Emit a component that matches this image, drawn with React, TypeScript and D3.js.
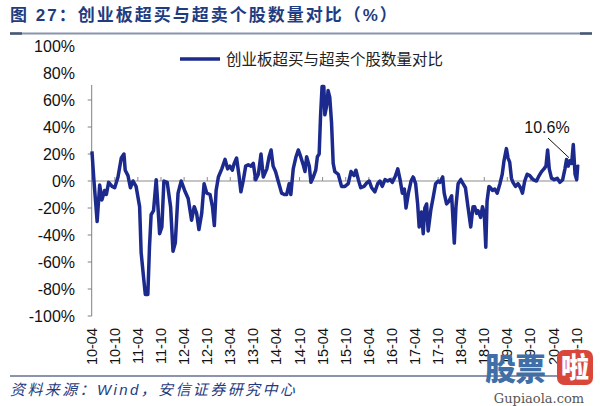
import React from "react";
import * as d3 from "d3";

const dates: string[] = [
  "2010-04-03","2010-04-19","2010-05-14","2010-06-03","2010-06-21","2010-07-12","2010-07-26","2010-08-13","2010-09-09","2010-09-30",
  "2010-10-26","2010-11-21","2010-12-12","2010-12-22","2011-01-13","2011-02-01","2011-02-22","2011-03-18","2011-04-15","2011-04-27",
  "2011-05-18","2011-05-30","2011-06-19","2011-07-02","2011-07-15","2011-08-03","2011-08-24","2011-09-07","2011-09-20","2011-10-08",
  "2011-10-24","2011-11-19","2011-12-16","2012-01-04","2012-01-22","2012-02-13","2012-03-09","2012-04-05","2012-05-03","2012-05-30",
  "2012-06-20","2012-07-09","2012-07-27","2012-08-18","2012-09-06","2012-09-27","2012-10-23","2012-11-11","2012-11-26","2012-12-10",
  "2012-12-28","2013-01-24","2013-02-19","2013-03-11","2013-03-29","2013-04-17","2013-05-02","2013-05-21","2013-06-09","2013-06-24",
  "2013-07-12","2013-08-01","2013-08-21","2013-09-12","2013-09-30","2013-10-19","2013-11-09","2013-11-30","2013-12-18","2014-01-15",
  "2014-02-02","2014-02-18","2014-03-06","2014-03-25","2014-04-15","2014-05-12","2014-06-02","2014-06-21","2014-07-11","2014-07-24",
  "2014-08-12","2014-09-03","2014-09-21","2014-10-10","2014-10-30","2014-11-13","2014-11-26","2014-12-17","2014-12-30","2015-01-18",
  "2015-02-06","2015-02-19","2015-03-05","2015-03-16","2015-03-28","2015-04-11","2015-04-19","2015-05-02","2015-05-15","2015-05-28",
  "2015-06-11","2015-06-24","2015-07-07","2015-08-03","2015-08-29","2015-09-25","2015-10-21","2015-11-12","2015-12-05","2015-12-21",
  "2016-01-09","2016-01-28","2016-02-23","2016-03-19","2016-04-04","2016-04-23","2016-05-19","2016-06-10","2016-06-28","2016-07-16",
  "2016-08-07","2016-08-28","2016-09-16","2016-10-04","2016-10-25","2016-11-16","2016-12-04","2016-12-22","2017-01-07","2017-01-20",
  "2017-02-08","2017-03-01","2017-03-17","2017-04-06","2017-04-22","2017-05-04","2017-05-23","2017-06-05","2017-06-18","2017-07-02",
  "2017-07-14","2017-08-05","2017-08-23","2017-09-11","2017-10-02","2017-10-15","2017-11-06","2017-11-18","2017-12-07","2017-12-25",
  "2018-01-16","2018-02-06","2018-02-19","2018-03-08","2018-03-29","2018-04-16","2018-05-05","2018-05-25","2018-06-16","2018-07-04",
  "2018-07-17","2018-08-01","2018-08-13","2018-09-02","2018-09-17","2018-10-01","2018-10-13","2018-10-23","2018-11-07","2018-11-20",
  "2018-12-05","2018-12-23","2019-01-11","2019-02-02","2019-02-20","2019-03-06","2019-03-25","2019-04-07","2019-04-20","2019-05-04",
  "2019-05-16","2019-06-05","2019-06-25","2019-07-14","2019-07-30","2019-08-17","2019-09-05","2019-09-26","2019-10-22","2019-11-18",
  "2019-12-09","2019-12-28","2020-01-16","2020-02-01","2020-02-14","2020-02-27","2020-03-16","2020-04-06","2020-04-30","2020-05-21",
  "2020-06-12","2020-06-30","2020-07-13","2020-07-26","2020-08-09","2020-08-22","2020-09-04","2020-09-18","2020-10-01","2020-10-09",
  "2020-10-19",
];

const ratio: number[] = [
  22, 0, -30, -3, -14, -7, -10, -1, -4, -5,
  3, 17, 20, 8, 4, -5, 0, -4, -19, -53,
  -73, -84, -84, -49, -25, -22, 1, -19, -39, -34,
  0, -1, -19, -52, -46, -9, 0, -7, -13, -29,
  -19, -24, -36, -24, -2, -9, -10, -19, -33, -7,
  3, 9, 16, 9, 11, 8, 13, 17, 4, -8,
  0, 11, 12, 11, 13, 1, 5, 20, 3, 9,
  18, 23, 11, 7, 0, -9, -10, -10, -2, -10,
  9, 18, 23, 18, 12, 7, 18, 11, -1, 3,
  8, 18, 20, 48, 70, 70, 49, 55, 67, 62,
  43, 13, 7, 5, -4, -4, -2, 7, 4, 8,
  1, -5, -4, -1, 0, -5, -8, -2, 0, -4,
  1, 0, 1, -1, 3, 9, 1, -9, -6, -20,
  -9, 0, 3, -2, -17, -34, -23, -39, -20, -17,
  -37, -21, -12, -2, 0, -1, 3, -9, -17, -15,
  -11, -46, -19, -2, 1, -2, -5, -19, -34, -19,
  -19, -24, -22, -27, -19, -24, -49, -15, -4, -5,
  -7, -6, -9, -2, 5, 15, 24, 17, 14, 2,
  -1, -4, -2, -5, -9, 0, 5, 4, 1, 0,
  4, 7, 9, 11, 23, 9, 2, 1, 2, -1,
  1, 9, 16, 11, 15, 13, 27, 5, 1, 11,
  10.6,
];

const xTickLabels: string[] = [
  "10-04","10-10","11-04","11-10","12-04","12-10","13-04","13-10","14-04","14-10","15-04",
  "15-10","16-04","16-10","17-04","17-10","18-04","18-10","19-04","19-10","20-04","20-10",
];
const yTicks: number[] = [100, 80, 60, 40, 20, 0, -20, -40, -60, -80, -100];

const title = "图 27：创业板超买与超卖个股数量对比（%）";
const seriesName = "创业板超买与超卖个股数量对比";
const source = "资料来源：Wind，安信证券研究中心";
const lastLabel = "10.6%";

const LAT = "'Liberation Sans', Arial, sans-serif";
const CJK = "'Liberation Sans', 'Noto Sans CJK SC', sans-serif";

export default function App() {
  const parse = d3.timeParse("%Y-%m-%d");
  const data = dates.map((d, i) => ({ t: parse(d) as Date, v: ratio[i] }));
  const tickDates = xTickLabels.map((s) => parse("20" + s + "-01") as Date);

  const x = d3.scaleTime().domain([tickDates[0], tickDates[tickDates.length - 1]]).range([91.7, 576.7]);
  const y = d3.scaleLinear().domain([-100, 100]).range([316, 46]);
  const line = d3.line<{ t: Date; v: number }>().x((d) => x(d.t)).y((d) => y(d.v));

  const last = data[data.length - 1];
  const lx = x(last.t);
  const ly = y(last.v);
  const navy = "#1b2a8c";

  return (
    <svg width={600} height={406} style={{ position: "absolute", left: 0, top: 0, background: "#fff" }}>
      {/* title */}
      <text x={10} y={21} fontFamily={CJK} fontSize={17} fontWeight="bold" fill="#1f3c80" letterSpacing={2}>
        {title}
      </text>
      <line x1={10} x2={592} y1={33.5} y2={33.5} stroke="#8a95ab" strokeWidth={2} />
      <line x1={10} x2={22} y1={33.5} y2={33.5} stroke="#4a5673" strokeWidth={2.5} />
      <line x1={580} x2={592} y1={33.5} y2={33.5} stroke="#4a5673" strokeWidth={2.5} />

      {/* y axis labels */}
      {yTicks.map((t) => (
        <text key={t} x={75} y={y(t)} dy="0.36em" textAnchor="end" fontFamily={LAT} fontSize={16} fill="#111">
          {t + "%"}
        </text>
      ))}
      {/* y axis */}
      <line x1={91.7} x2={91.7} y1={85} y2={y(-100)} stroke="#808080" strokeWidth={1} />
      {yTicks.filter((t) => y(t) > 85).map((t) => (
        <line key={"yt" + t} x1={87.7} x2={91.7} y1={y(t)} y2={y(t)} stroke="#808080" strokeWidth={1} />
      ))}
      {/* zero line with ticks */}
      <line x1={91.7} x2={578} y1={y(0)} y2={y(0)} stroke="#8c8c8c" strokeWidth={1.2} />
      {tickDates.map((d, i) => (
        <line key={"xt" + i} x1={x(d)} x2={x(d)} y1={y(0)} y2={y(0) - 4} stroke="#8c8c8c" strokeWidth={1} />
      ))}
      {/* x labels */}
      {tickDates.map((d, i) => (
        <text
          key={"xl" + i}
          transform={`translate(${x(d) + 5},328) rotate(-90)`}
          textAnchor="end"
          fontFamily={LAT}
          fontSize={14.5}
          fill="#111"
        >
          {xTickLabels[i]}
        </text>
      ))}

      {/* data line */}
      <path d={line(data) || ""} fill="none" stroke={navy} strokeWidth={3.5} strokeLinejoin="round" />

      {/* legend */}
      <line x1={180} x2={220} y1={59} y2={59} stroke={navy} strokeWidth={3.5} />
      <text x={226} y={59} dy="0.36em" fontFamily={CJK} fontSize={15.5} fill="#222">
        {seriesName}
      </text>

      {/* annotation */}
      <text x={547} y={127} dy="0.36em" textAnchor="middle" fontFamily={LAT} fontSize={16} fill="#111">
        {lastLabel}
      </text>
      <line x1={548} y1={138} x2={lx - 10} y2={ly - 9} stroke="#111" strokeWidth={1} />

      {/* footer */}
      <line x1={10} x2={592} y1={376} y2={376} stroke="#8a95ab" strokeWidth={2} />
      <text x={10} y={395} fontFamily={CJK} fontSize={15} fontStyle="italic" fill="#1f3c80" letterSpacing={2.4}>
        {source}
      </text>

      {/* watermark */}
      <text x={485} y={380} fontFamily="'Noto Sans CJK SC', sans-serif" fontWeight="900" fontSize={31} fill="#3f6fa6" letterSpacing={-1}>
        股票
      </text>
      <rect x={557} y={350} width={36} height={35} rx={7} fill="#d9473b" />
      <text x={575} y={378} textAnchor="middle" fontFamily="'Noto Sans CJK SC', sans-serif" fontWeight="900" fontSize={28} fill="#fff">
        啦
      </text>
      <text x={539} y={403} textAnchor="middle" fontFamily="'DejaVu Serif', serif" fontSize={13} fill="#555">
        Gupiaola.com
      </text>
    </svg>
  );
}
